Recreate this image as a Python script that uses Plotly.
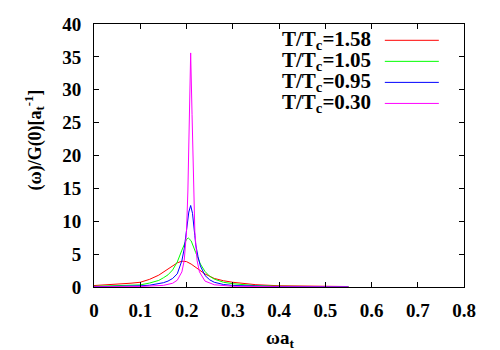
import plotly.graph_objects as go

# spectral function curves
x_red = [0, 0.05, 0.08, 0.1, 0.12, 0.14, 0.16, 0.17, 0.18, 0.19, 0.2, 0.21, 0.22,
         0.23, 0.24, 0.26, 0.28, 0.3, 0.35, 0.4, 0.45, 0.5, 0.55]
y_red = [0.22, 0.38, 0.58, 0.72, 1.16, 1.8, 2.7, 3.2, 3.67, 3.93, 3.86, 3.49, 2.97,
         2.44, 1.98, 1.3, 0.95, 0.72, 0.35, 0.19, 0.13, 0.09, 0.07]

x_green = [0, 0.05, 0.1, 0.12, 0.14, 0.15, 0.16, 0.17, 0.18, 0.19, 0.2, 0.204, 0.21,
           0.22, 0.23, 0.24, 0.25, 0.26, 0.28, 0.3, 0.35, 0.4, 0.45, 0.5, 0.55]
y_green = [0.1, 0.18, 0.32, 0.6, 1.0, 1.4, 1.85, 2.6, 3.8, 5.6, 7.25, 7.45, 7.03,
           5.22, 3.5, 2.36, 1.64, 1.2, 0.72, 0.5, 0.2, 0.11, 0.07, 0.05, 0.04]

x_blue = [0, 0.05, 0.1, 0.12, 0.14, 0.15, 0.16, 0.17, 0.18, 0.19, 0.195, 0.2, 0.205,
          0.209, 0.213, 0.218, 0.22, 0.225, 0.23, 0.24, 0.25, 0.26, 0.28, 0.3,
          0.35, 0.4, 0.5, 0.55]
y_blue = [0.04, 0.08, 0.18, 0.27, 0.45, 0.65, 0.9, 1.3, 2.0, 4.0, 5.8, 8.8, 11.4,
          12.4, 11.2, 7.8, 6.4, 4.6, 3.2, 1.75, 1.1, 0.72, 0.38, 0.24,
          0.1, 0.05, 0.03, 0.02]

x_mag = [0, 0.1, 0.15, 0.17, 0.18, 0.19, 0.195, 0.2, 0.203, 0.206, 0.209, 0.212,
         0.215, 0.218, 0.223, 0.228, 0.24, 0.26, 0.3, 0.35, 0.4, 0.5, 0.55]
y_mag = [0.02, 0.08, 0.25, 0.57, 1.03, 2.3, 4.0, 8.4, 14.6, 26.2, 35.6, 26.2,
         14.6, 8.4, 4.0, 2.3, 0.9, 0.34, 0.11, 0.05, 0.03, 0.02, 0.01]

labels = ["T/T<sub>c</sub>=1.58", "T/T<sub>c</sub>=1.05",
          "T/T<sub>c</sub>=0.95", "T/T<sub>c</sub>=0.30"]
colors = ["#ff0000", "#00ff00", "#0000ff", "#ff00ff"]

x_ticks = [0, 0.1, 0.2, 0.3, 0.4, 0.5, 0.6, 0.7, 0.8]
x_ticktext = ["0", "0.1", "0.2", "0.3", "0.4", "0.5", "0.6", "0.7", "0.8"]
y_ticks = [0, 5, 10, 15, 20, 25, 30, 35, 40]
y_ticktext = ["0", "5", "10", "15", "20", "25", "30", "35", "40"]

serif = "Liberation Serif"

fig = go.Figure()
for xs, ys, c, name in zip([x_red, x_green, x_blue, x_mag],
                           [y_red, y_green, y_blue, y_mag], colors, labels):
    fig.add_trace(go.Scatter(x=xs, y=ys, mode="lines", name=name,
                             line=dict(color=c, width=1), showlegend=False))

# gnuplot style key: text right aligned, sample line to the right
row_y = [0.938, 0.858, 0.778, 0.698]
for name, c, ry in zip(labels, colors, row_y):
    fig.add_annotation(text="<b>" + name + "</b>", xref="paper", yref="paper",
                       x=0.755, y=ry, xanchor="right", yanchor="middle", showarrow=False,
                       font=dict(family=serif, size=21, color="black"))
    fig.add_shape(type="line", xref="paper", yref="paper", x0=0.786, x1=0.932,
                  y0=ry, y1=ry, line=dict(color=c, width=1))

# axis titles
fig.add_annotation(text="<b>ωa<sub>t</sub></b>", xref="paper", yref="paper",
                   x=0.503, y=-0.143, xanchor="center", yanchor="top", showarrow=False,
                   font=dict(family=serif, size=19, color="black"))
fig.add_annotation(text="<b>(ω)/G(0)[a<sub>t</sub><sup>-1</sup>]</b>", xref="paper",
                   yref="paper", x=-0.16, y=0.56, xanchor="center", yanchor="middle",
                   textangle=-90, showarrow=False,
                   font=dict(family=serif, size=18, color="black"))

fig.update_xaxes(range=[0, 0.8], tickvals=x_ticks,
                 ticktext=["<b>" + t + "</b>" for t in x_ticktext],
                 ticks="inside", ticklen=5, tickcolor="black", mirror="ticks",
                 showline=True, linecolor="black", linewidth=1, showgrid=False,
                 zeroline=False, ticklabelstandoff=6, automargin=False,
                 tickfont=dict(family=serif, size=19, color="black"))
fig.update_yaxes(range=[0, 40], tickvals=y_ticks,
                 ticktext=["<b>" + t + "</b>" for t in y_ticktext],
                 ticks="inside", ticklen=5, tickcolor="black", mirror="ticks",
                 showline=True, linecolor="black", linewidth=1, showgrid=False,
                 zeroline=False, ticklabelstandoff=8, automargin=False,
                 tickfont=dict(family=serif, size=19, color="black"))

fig.update_layout(width=492, height=342, margin=dict(l=86, r=36, t=16, b=63),
                  plot_bgcolor="white", paper_bgcolor="white")

fig.write_html("out.html")
